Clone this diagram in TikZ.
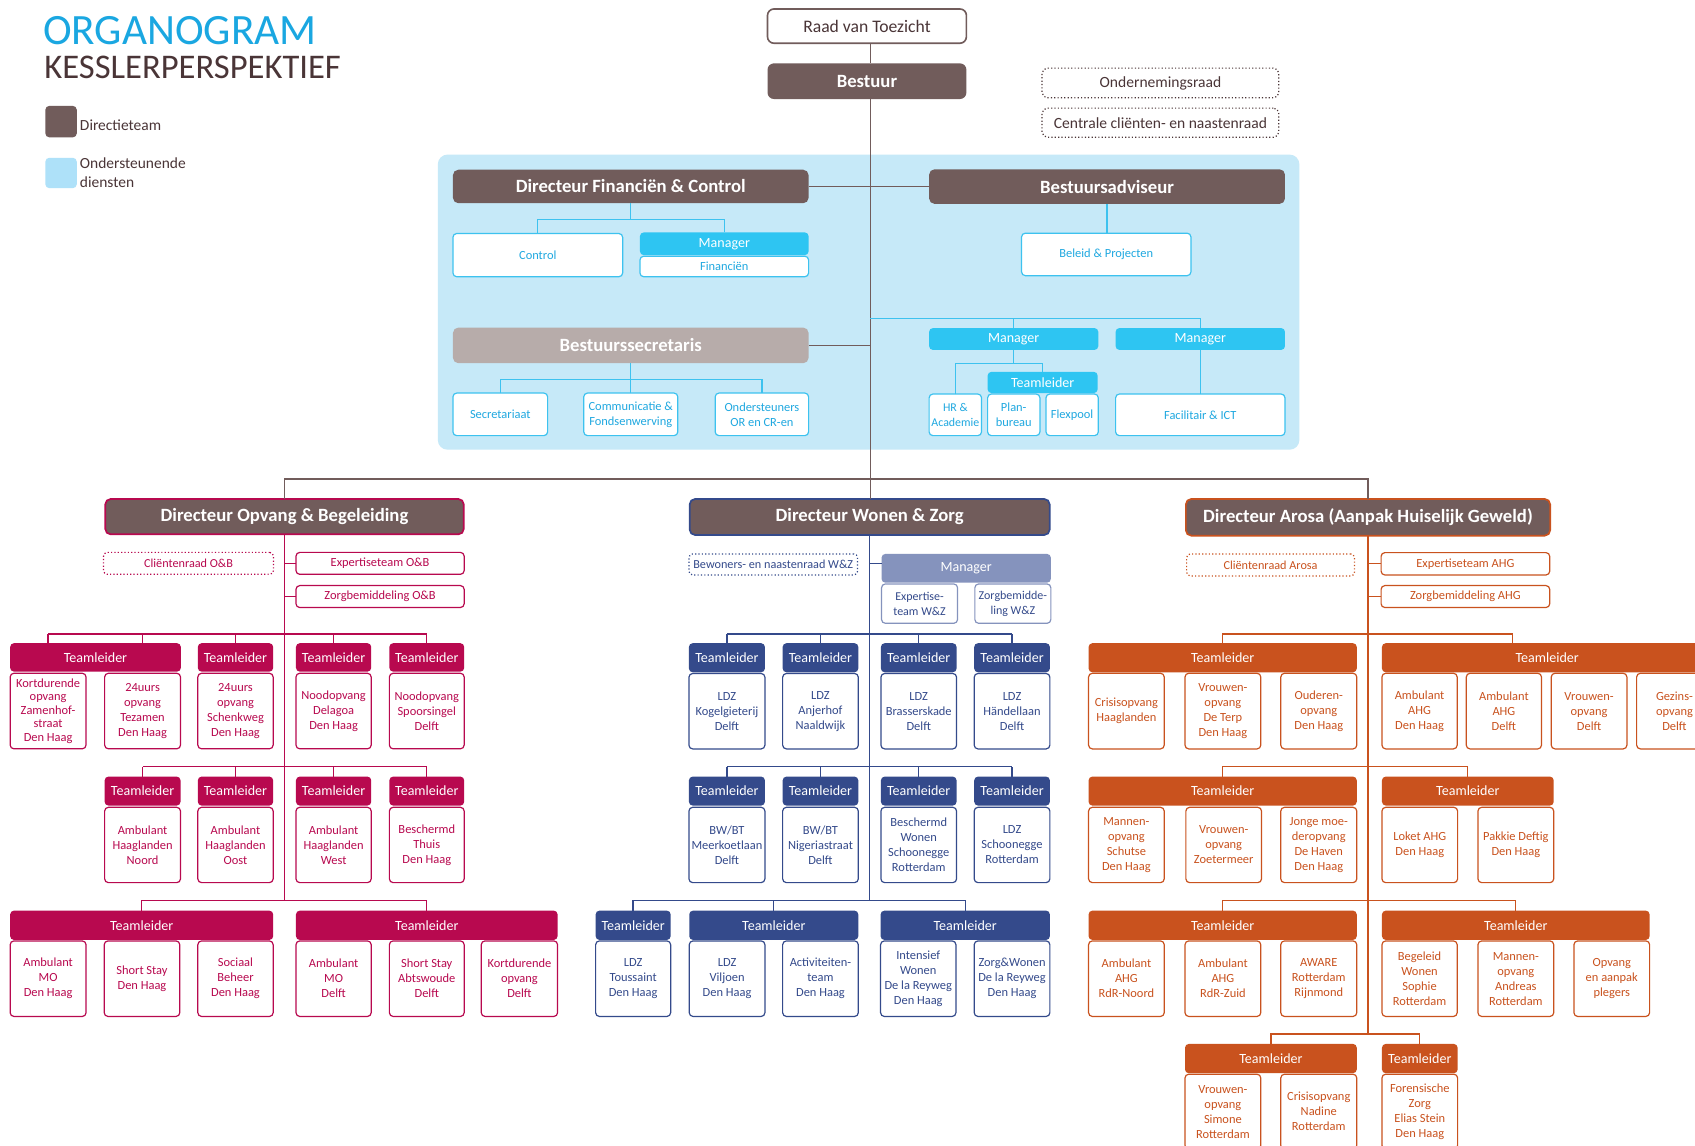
\documentclass[tikz,border=0pt]{standalone}
\usepackage{fontspec}
\setmainfont{Carlito}
\definecolor{cBrown}{HTML}{715C5B}
\definecolor{cSec}{HTML}{B7ACAA}
\definecolor{cBg}{HTML}{C6E9F8}
\definecolor{cLeg}{HTML}{AEE1F9}
\definecolor{cCyan}{HTML}{2EC5F2}
\definecolor{cCyanT}{HTML}{1FA8E0}
\definecolor{cCyanL}{HTML}{3DC2EF}
\definecolor{cTitle}{HTML}{1AA7E1}
\definecolor{cDark}{HTML}{4A3537}
\definecolor{cCrim}{HTML}{B8094F}
\definecolor{cNavy}{HTML}{344A8B}
\definecolor{cGB}{HTML}{8593BD}
\definecolor{cOr}{HTML}{C9521E}
\tikzset{
 every node/.style={inner sep=0pt, outer sep=0pt},
 bxbase/.style={rounded corners=3.5pt, align=center},
 dirbox/.style={bxbase, fill=cBrown, text=white, font=\fontsize{17.3}{20}\selectfont\bfseries, line width=1.6pt, rounded corners=5pt},
 tlbox/.style={bxbase, fill=#1, text=white, font=\fontsize{13}{15}\selectfont},
 unitbox/.style={bxbase, draw=#1, fill=white, text=#1, line width=1.1pt, font=\fontsize{11.5}{13.9}\selectfont},
 dotbox/.style={bxbase, draw=#1, dotted, line width=1.1pt, text=#1, font=\fontsize{11.3}{13}\selectfont},
 bluebox/.style={bxbase, draw=cCyanL, fill=white, text=cCyanT, line width=1.1pt, font=\fontsize{11.5}{13.9}\selectfont},
 cyanbox/.style={bxbase, fill=cCyan, text=white, font=\fontsize{13}{15}\selectfont},
 tight/.style={font=\fontsize{11.5}{12.6}\selectfont},
 ln/.style={draw=#1, line width=1.2pt},
}
\newcommand\bx[7]{\node[#2, minimum width={(#5-#3)*1pt}, minimum height={(#6-#4)*1pt}] (#1) at ({(#3+#5)/2},{(#4+#6)/2}) {#7};}
\newcommand\drp[3]{\draw[ln=#1] (#3.north) -- (#3.north |- #2);}
\begin{document}
\begin{tikzpicture}[x=1pt,y=-1pt]
\useasboundingbox (0,0) rectangle (1568,1060);
\clip (0,0) rectangle (1568,1060);
\fill[white] (0,0) rectangle (1568,1060);
\coordinate (mx) at (805,0);
% title and legend
\node[anchor=base west, text=cTitle, font=\fontsize{40}{40}\selectfont] (title) at (40,41) {ORGANOGRAM};
\node[anchor=base west, text=cDark, font=\fontsize{32}{32}\selectfont] (sub) at (41,73) {KESSLERPERSPEKTIEF};
\bx{legA}{bxbase,fill=cBrown}{42}{98}{71}{127}{}
\node[anchor=west, text=cDark, font=\fontsize{14.3}{17}\selectfont] (legAt) at (74,116) {Directieteam};
\bx{legB}{bxbase,fill=cLeg}{42}{146}{71}{174}{}
\node[anchor=base west, text=cDark, font=\fontsize{14.3}{17}\selectfont] (legBt) at (74,156) {Ondersteunende};
\node[anchor=base west, text=cDark, font=\fontsize{14.3}{17}\selectfont] (legBu) at (74,173.6) {diensten};
% top
\bx{raad}{bxbase, draw=cBrown, line width=1.5pt, fill=white, text=cDark, font=\fontsize{16.3}{19}\selectfont, rounded corners=6pt}{710}{8.3}{894}{40}{Raad van Toezicht}
\bx{bestuur}{dirbox, rounded corners=6pt}{710}{58.6}{894}{91.6}{Bestuur}
\bx{onr}{dotbox=cDark, font=\fontsize{14.4}{17}\selectfont, rounded corners=5pt}{964}{63}{1183}{90.5}{Ondernemingsraad}
\bx{ccr}{dotbox=cDark, font=\fontsize{14.4}{17}\selectfont, rounded corners=5pt}{964}{100}{1183}{127}{Centrale cliënten- en naastenraad}
% blue area
\bx{bg}{fill=cBg, rounded corners=9pt}{405}{143}{1202}{416}{}
\bx{dfc}{dirbox}{419}{157}{748}{188}{Directeur Financiën \& Control}
\bx{badv}{dirbox}{859.5}{156.6}{1188.7}{188.6}{Bestuursadviseur}
\bx{control}{bluebox}{419}{216}{576}{256}{Control}
\bx{mgrF}{cyanbox}{592}{215}{748}{236}{Manager}
\bx{fin}{bluebox}{592}{237}{748}{256}{Financiën}
\bx{bsec}{dirbox, fill=cSec}{419}{303}{748}{336}{Bestuurssecretaris}
\bx{secr}{bluebox}{419}{363.6}{506.6}{403}{Secretariaat}
\bx{comm}{bluebox}{540}{363.6}{627}{403}{Communicatie \&\\Fondsenwerving}
\bx{onders}{bluebox}{661.6}{363.6}{748}{403}{Ondersteuners\\OR en CR-en}
\bx{beleid}{bluebox}{945}{215.7}{1101.7}{255}{Beleid \& Projecten}
\bx{mgr1}{cyanbox}{859.5}{303.5}{1016}{323.7}{Manager}
\bx{mgr2}{cyanbox}{1032}{303.5}{1188.7}{323.7}{Manager}
\bx{tlb}{cyanbox}{913.6}{344}{1015.4}{363.6}{Teamleider}
\bx{hr}{bluebox, font=\fontsize{11}{13.9}\selectfont}{859.5}{364.5}{908}{403}{HR \&\\Academie}
\bx{plan}{bluebox}{913.6}{364.5}{962}{403}{Plan-\\bureau}
\bx{flex}{bluebox}{967.6}{364.5}{1016}{403}{Flexpool}
\bx{fac}{bluebox}{1032}{364.5}{1188.7}{403}{Facilitair \& ICT}
% directors
\bx{ob}{dirbox, draw=cCrim}{97.4}{461.6}{429}{494.3}{Directeur Opvang \& Begeleiding}
\bx{wz}{dirbox, draw=cNavy}{638}{461.6}{971}{494.9}{Directeur Wonen \& Zorg}
\bx{ar}{dirbox, draw=cOr}{1097}{461.6}{1434}{495.5}{Directeur Arosa (Aanpak Huiselijk Geweld)}
% ---------- O&B
\bx{obcr}{dotbox=cCrim}{95.8}{511}{253}{531.3}{Cliëntenraad O\&B}
\bx{obexp}{unitbox=cCrim}{273.8}{511}{429.4}{531.3}{Expertiseteam O\&B}
\bx{obzb}{unitbox=cCrim}{273.8}{541.7}{429.4}{562}{Zorgbemiddeling O\&B}
\bx{ob11}{tlbox=cCrim}{9.4}{595}{167.3}{621.3}{Teamleider}
\bx{ob12}{tlbox=cCrim}{183}{595}{252.7}{621.3}{Teamleider}
\bx{ob13}{tlbox=cCrim}{273.8}{595}{343.4}{621.3}{Teamleider}
\bx{ob14}{tlbox=cCrim}{360.2}{595}{429.4}{621.3}{Teamleider}
\bx{obu11}{unitbox=cCrim, tight}{9.4}{622.8}{79.6}{692.7}{Kortdurende\\opvang\\Zamenhof-\\straat\\Den Haag}
\bx{obu12}{unitbox=cCrim}{96.8}{622.8}{167}{692.7}{24uurs\\opvang\\Tezamen\\Den Haag}
\bx{obu13}{unitbox=cCrim}{183}{622.8}{252.7}{692.7}{24uurs\\opvang\\Schenkweg\\Den Haag}
\bx{obu14}{unitbox=cCrim}{273.8}{622.8}{343.4}{692.7}{Noodopvang\\Delagoa\\Den Haag}
\bx{obu15}{unitbox=cCrim}{360.2}{622.8}{429.4}{692.7}{Noodopvang\\Spoorsingel\\Delft}
\bx{ob21}{tlbox=cCrim}{96.8}{718.4}{167}{745.2}{Teamleider}
\bx{ob22}{tlbox=cCrim}{183}{718.4}{252.7}{745.2}{Teamleider}
\bx{ob23}{tlbox=cCrim}{273.8}{718.4}{343.4}{745.2}{Teamleider}
\bx{ob24}{tlbox=cCrim}{360.2}{718.4}{429.4}{745.2}{Teamleider}
\bx{obu21}{unitbox=cCrim}{96.8}{746.8}{167}{816.5}{Ambulant\\Haaglanden\\Noord}
\bx{obu22}{unitbox=cCrim}{183}{746.8}{252.7}{816.5}{Ambulant\\Haaglanden\\Oost}
\bx{obu23}{unitbox=cCrim}{273.8}{746.8}{343.4}{816.5}{Ambulant\\Haaglanden\\West}
\bx{obu24}{unitbox=cCrim}{360.2}{746.8}{429.4}{816.5}{Beschermd\\Thuis\\Den Haag}
\bx{ob31}{tlbox=cCrim}{9.4}{842.4}{252.7}{869.5}{Teamleider}
\bx{ob32}{tlbox=cCrim}{273.8}{842.4}{515.8}{869.5}{Teamleider}
\bx{obu31}{unitbox=cCrim}{9.4}{870.4}{79.6}{940.3}{Ambulant\\MO\\Den Haag}
\bx{obu32}{unitbox=cCrim}{96.4}{870.4}{166.3}{940.3}{Short Stay\\Den Haag}
\bx{obu33}{unitbox=cCrim}{183}{870.4}{252.7}{940.3}{Sociaal\\Beheer\\Den Haag}
\bx{obu34}{unitbox=cCrim}{273.8}{870.4}{343.4}{940.3}{Ambulant\\MO\\Delft}
\bx{obu35}{unitbox=cCrim}{360.2}{870.4}{429.4}{940.3}{Short Stay\\Abtswoude\\Delft}
\bx{obu36}{unitbox=cCrim}{445.2}{870.4}{515.8}{940.3}{Kortdurende\\opvang\\Delft}
% ---------- W&Z
\bx{wzcr}{dotbox=cNavy}{637.3}{512.4}{793.3}{531.9}{Bewoners- en naastenraad W\&Z}
\bx{wzm}{tlbox=cGB}{815.5}{512.4}{972.1}{539}{Manager}
\bx{wzexp}{unitbox=cNavy, draw=cGB, font=\fontsize{11.1}{13.9}\selectfont}{815.5}{540.2}{885.8}{576.6}{Expertise-\\team W\&Z}
\bx{wzzb}{unitbox=cNavy, draw=cGB, font=\fontsize{11.1}{13.9}\selectfont}{901.8}{540.2}{972.1}{576.6}{Zorgbemidde-\\ling W\&Z}
\bx{wz11}{tlbox=cNavy}{637.3}{595}{707.6}{621.9}{Teamleider}
\bx{wz12}{tlbox=cNavy}{724}{595}{794}{621.9}{Teamleider}
\bx{wz13}{tlbox=cNavy}{814.9}{595}{884.9}{621.9}{Teamleider}
\bx{wz14}{tlbox=cNavy}{901.2}{595}{971.2}{621.9}{Teamleider}
\bx{wzu11}{unitbox=cNavy}{637.3}{623}{707.6}{692.8}{LDZ\\Kogelgieterij\\Delft}
\bx{wzu12}{unitbox=cNavy}{724}{623}{794}{692.8}{LDZ\\Anjerhof\\Naaldwijk}
\bx{wzu13}{unitbox=cNavy}{814.9}{623}{884.9}{692.8}{LDZ\\Brasserskade\\Delft}
\bx{wzu14}{unitbox=cNavy}{901.2}{623}{971.2}{692.8}{LDZ\\Händellaan\\Delft}
\bx{wz21}{tlbox=cNavy}{637.3}{718.4}{707.6}{745.2}{Teamleider}
\bx{wz22}{tlbox=cNavy}{724}{718.4}{794}{745.2}{Teamleider}
\bx{wz23}{tlbox=cNavy}{814.9}{718.4}{884.9}{745.2}{Teamleider}
\bx{wz24}{tlbox=cNavy}{901.2}{718.4}{971.2}{745.2}{Teamleider}
\bx{wzu21}{unitbox=cNavy}{637.3}{746.8}{707.6}{816.5}{BW/BT\\Meerkoetlaan\\Delft}
\bx{wzu22}{unitbox=cNavy}{724}{746.8}{794}{816.5}{BW/BT\\Nigeriastraat\\Delft}
\bx{wzu23}{unitbox=cNavy}{814.9}{746.8}{884.9}{816.5}{Beschermd\\Wonen\\Schoonegge\\Rotterdam}
\bx{wzu24}{unitbox=cNavy}{901.2}{746.8}{971.2}{816.5}{LDZ\\Schoonegge\\Rotterdam}
\bx{wz31}{tlbox=cNavy}{551}{842.4}{620.4}{869.5}{Teamleider}
\bx{wz32}{tlbox=cNavy}{637.6}{842.4}{794}{869.5}{Teamleider}
\bx{wz33}{tlbox=cNavy}{814.6}{842.4}{971.2}{869.5}{Teamleider}
\bx{wzu31}{unitbox=cNavy}{551}{870.4}{620.4}{940.3}{LDZ\\Toussaint\\Den Haag}
\bx{wzu32}{unitbox=cNavy}{637.6}{870.4}{707.6}{940.3}{LDZ\\Viljoen\\Den Haag}
\bx{wzu33}{unitbox=cNavy}{724}{870.4}{794}{940.3}{Activiteiten-\\team\\Den Haag}
\bx{wzu34}{unitbox=cNavy}{814.6}{870.4}{884.3}{940.3}{Intensief\\Wonen\\De la Reyweg\\Den Haag}
\bx{wzu35}{unitbox=cNavy}{901.2}{870.4}{971.2}{940.3}{Zorg\&Wonen\\De la Reyweg\\Den Haag}
% ---------- Arosa
\bx{arcr}{dotbox=cOr}{1097.7}{512.4}{1253}{532.8}{Cliëntenraad Arosa}
\bx{arexp}{unitbox=cOr}{1277.6}{511.2}{1433.6}{531.9}{Expertiseteam AHG}
\bx{arzb}{unitbox=cOr}{1277.6}{541.7}{1433.6}{562}{Zorgbemiddeling AHG}
\bx{ar11}{tlbox=cOr}{1007}{595}{1255.1}{621.9}{Teamleider}
\bx{ar12}{tlbox=cOr}{1278.4}{595}{1584}{621.9}{Teamleider}
\bx{aru11}{unitbox=cOr}{1007}{622.8}{1077}{692.8}{Crisisopvang\\Haaglanden}
\bx{aru12}{unitbox=cOr}{1096.2}{622.8}{1166.3}{692.8}{Vrouwen-\\opvang\\De Terp\\Den Haag}
\bx{aru13}{unitbox=cOr}{1184.8}{622.8}{1255.1}{692.8}{Ouderen-\\opvang\\Den Haag}
\bx{aru14}{unitbox=cOr}{1278.4}{622.8}{1348}{692.8}{Ambulant\\AHG\\Den Haag}
\bx{aru15}{unitbox=cOr}{1356.4}{622.8}{1426}{692.8}{Ambulant\\AHG\\Delft}
\bx{aru16}{unitbox=cOr}{1435}{622.8}{1505}{692.8}{Vrouwen-\\opvang\\Delft}
\bx{aru17}{unitbox=cOr}{1514}{622.8}{1584}{692.8}{Gezins-\\opvang\\Delft}
\bx{ar21}{tlbox=cOr}{1007}{718.4}{1255.1}{745.2}{Teamleider}
\bx{ar22}{tlbox=cOr}{1278.4}{718.4}{1437.3}{745.2}{Teamleider}
\bx{aru21}{unitbox=cOr}{1007}{746.8}{1077}{816.5}{Mannen-\\opvang\\Schutse\\Den Haag}
\bx{aru22}{unitbox=cOr}{1097}{746.8}{1167}{816.5}{Vrouwen-\\opvang\\Zoetermeer}
\bx{aru23}{unitbox=cOr}{1184.8}{746.8}{1255.1}{816.5}{Jonge moe-\\deropvang\\De Haven\\Den Haag}
\bx{aru24}{unitbox=cOr}{1278.4}{746.8}{1348.4}{816.5}{Loket AHG\\Den Haag}
\bx{aru25}{unitbox=cOr}{1367.2}{746.8}{1437.3}{816.5}{Pakkie Deftig\\Den Haag}
\bx{ar31}{tlbox=cOr}{1007}{842.4}{1255.1}{869.5}{Teamleider}
\bx{ar32}{tlbox=cOr}{1278.4}{842.4}{1526}{869.5}{Teamleider}
\bx{aru31}{unitbox=cOr}{1007}{870.4}{1077}{940.3}{Ambulant\\AHG\\RdR-Noord}
\bx{aru32}{unitbox=cOr}{1096.2}{870.4}{1166.3}{940.3}{Ambulant\\AHG\\RdR-Zuid}
\bx{aru33}{unitbox=cOr}{1184.8}{870.4}{1255.1}{940.3}{AWARE\\Rotterdam\\Rijnmond}
\bx{aru34}{unitbox=cOr}{1278.4}{870.4}{1348}{940.3}{Begeleid\\Wonen\\Sophie\\Rotterdam}
\bx{aru35}{unitbox=cOr}{1367.2}{870.4}{1437.3}{940.3}{Mannen-\\opvang\\Andreas\\Rotterdam}
\bx{aru36}{unitbox=cOr}{1456}{870.4}{1526}{940.3}{Opvang\\en aanpak\\plegers}
\bx{ar41}{tlbox=cOr}{1096.2}{965.7}{1255.1}{992.8}{Teamleider}
\bx{ar42}{tlbox=cOr}{1278.4}{965.7}{1348.4}{992.8}{Teamleider}
\bx{aru41}{unitbox=cOr}{1096.2}{993.7}{1166.3}{1063}{Vrouwen-\\opvang\\Simone\\Rotterdam}
\bx{aru42}{unitbox=cOr}{1184.8}{993.7}{1255.1}{1063}{Crisisopvang\\Nadine\\Rotterdam}
\bx{aru43}{unitbox=cOr}{1278.4}{993.7}{1348.4}{1063}{Forensische\\Zorg\\Elias Stein\\Den Haag}
% ================= connectors
% main
\draw[ln=cBrown] (raad.south -| mx) -- (bestuur.north -| mx);
\draw[ln=cBrown] (bestuur.south -| mx) -- (wz.north -| mx);
\coordinate (hb) at (805,443);
\draw[ln=cBrown] (ob.north) |- (hb) -| (ar.north);
\draw[ln=cBrown] (dfc.east) -- (dfc.east -| mx);
\draw[ln=cBrown] (badv.west) -- (badv.west -| mx);
\draw[ln=cBrown] (bsec.east) -- (bsec.east -| mx);
% blue area
\coordinate (dfcb) at (583.5,203);
\draw[ln=cCyanL] (dfc.south) -- (dfcb);
\draw[ln=cCyanL] (control.north) |- (dfcb) -| (mgrF.north);
\coordinate (bsb) at (583.5,351);
\draw[ln=cCyanL] (bsec.south) -- (bsb);
\draw[ln=cCyanL] (secr.north) |- (bsb) -| (onders.north);
\drp{cCyanL}{bsb}{comm}
\draw[ln=cCyanL] (badv.south) -- (badv.south |- beleid.north);
\coordinate (mb) at (805,294.4);
\draw[ln=cCyanL] (mb) -| (mgr2.north);
\drp{cCyanL}{mb}{mgr1}
\coordinate (m1b) at (937.75,336);
\draw[ln=cCyanL] (mgr1.south) -- (m1b);
\draw[ln=cCyanL] (hr.north) |- (m1b) -| (tlb.north);
\draw[ln=cCyanL] (mgr2.south) -- (mgr2.south |- fac.north);
% O&B
\coordinate (ob1b) at (263.2,586.4);
\coordinate (ob2b) at (263.2,709.2);
\coordinate (ob3b) at (263.2,833);
\draw[ln=cCrim] (ob.south) -- (ob3b);
\draw[ln=cCrim] (obexp.west) -- (obexp.west -| ob.south);
\draw[ln=cCrim] (obzb.west) -- (obzb.west -| ob.south);
\draw[ln=cCrim] (obu11.north |- ob1b) -- (ob14.north |- ob1b);
\draw[ln=cCrim] (obu11.north |- ob11.north) -- (obu11.north |- ob1b);
\draw[ln=cCrim] (obu12.north |- ob11.north) -- (obu12.north |- ob1b);
\drp{cCrim}{ob1b}{ob12}\drp{cCrim}{ob1b}{ob13}\drp{cCrim}{ob1b}{ob14}
\draw[ln=cCrim] (ob21.north |- ob2b) -- (ob24.north |- ob2b);
\drp{cCrim}{ob2b}{ob21}\drp{cCrim}{ob2b}{ob22}\drp{cCrim}{ob2b}{ob23}\drp{cCrim}{ob2b}{ob24}
\draw[ln=cCrim] (ob31.north) |- (ob3b) -| (ob32.north);
% W&Z
\coordinate (wz1b) at (804.5,586.4);
\coordinate (wz2b) at (804.5,709.2);
\coordinate (wz3b) at (804.5,833);
\draw[ln=cNavy] (wz.south) -- (wz3b);
\draw[ln=cNavy] (wzm.west |- obexp.west) -- (wz.south |- obexp.west);
\draw[ln=cNavy] (wz11.north |- wz1b) -- (wz14.north |- wz1b);
\drp{cNavy}{wz1b}{wz11}\drp{cNavy}{wz1b}{wz12}\drp{cNavy}{wz1b}{wz13}\drp{cNavy}{wz1b}{wz14}
\draw[ln=cNavy] (wz21.north |- wz2b) -- (wz24.north |- wz2b);
\drp{cNavy}{wz2b}{wz21}\drp{cNavy}{wz2b}{wz22}\drp{cNavy}{wz2b}{wz23}\drp{cNavy}{wz2b}{wz24}
\draw[ln=cNavy] (wz31.north) |- (wz3b) -| (wz33.north);
\drp{cNavy}{wz3b}{wz32}
% Arosa
\coordinate (ar1b) at (1265.5,586.4);
\coordinate (ar12d) at (1399.2,586.4);
\coordinate (ar2b) at (1265.5,709.2);
\coordinate (ar3b) at (1265.5,833);
\coordinate (ar4b) at (1265.5,956.4);
\draw[ln=cOr] (ar.south) -- (ar4b);
\draw[ln=cOr] (arexp.west) -- (arexp.west -| ar.south);
\draw[ln=cOr] (arzb.west) -- (arzb.west -| ar.south);
\draw[ln=cOr] (ar11.north) |- (ar1b) -- (ar12d) -- (ar12d |- ar12.north);
\draw[ln=cOr] (ar21.north) |- (ar2b) -| (ar22.north);
\draw[ln=cOr] (ar31.north) |- (ar3b) -| (ar32.north);
\draw[ln=cOr] (ar41.north) |- (ar4b) -| (ar42.north);
\end{tikzpicture}
\end{document}
